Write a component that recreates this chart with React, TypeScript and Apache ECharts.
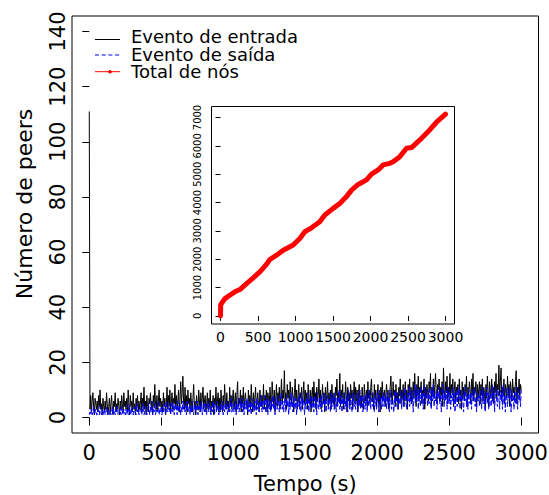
import React, { useEffect, useRef } from "react";
import * as echarts from "echarts";

// Sampling interval of the event series (seconds)
const STEP = 5;

// Peers that joined in each sampling window (one row = 50 s)
const entrada = [
  111,
  3, 8, 2, 6, 9, 4, 1, 7, 5, 3,
  6, 2, 8, 4, 10, 3, 5, 1, 7, 4,
  2, 6, 3, 9, 5, 1, 4, 7, 2, 5,
  8, 3, 1, 6, 4, 9, 2, 5, 3, 7,
  4, 1, 6, 3, 8, 5, 2, 9, 4, 6,
  3, 7, 2, 10, 5, 1, 8, 4, 6, 2,
  9, 3, 5, 1, 7, 4, 8, 2, 6, 3,
  5, 9, 2, 7, 4, 11, 3, 6, 1, 8,
  4, 2, 7, 5, 9, 3, 6, 1, 8, 4,
  12, 5, 3, 8, 2, 6, 10, 4, 7, 3,
  6, 2, 9, 4, 7, 1, 5, 11, 3, 8,
  4, 10, 2, 6, 9, 3, 7, 5, 12, 4,
  8, 3, 6, 10, 2, 7, 13, 5, 9, 15,
  6, 3, 11, 4, 8, 2, 10, 5, 7, 3,
  9, 5, 2, 7, 12, 4, 6, 1, 8, 5,
  3, 10, 6, 2, 9, 4, 7, 11, 3, 6,
  8, 2, 5, 9, 3, 7, 4, 10, 2, 6,
  4, 8, 1, 7, 5, 11, 3, 6, 9, 2,
  7, 3, 10, 5, 2, 8, 4, 12, 6, 3,
  9, 4, 6, 2, 11, 5, 8, 3, 7, 10,
  3, 6, 9, 2, 8, 13, 4, 7, 5, 10,
  2, 8, 5, 11, 3, 7, 9, 4, 6, 1,
  10, 5, 8, 3, 12, 6, 2, 9, 4, 7,
  11, 3, 6, 9, 5, 2, 10, 7, 4, 8,
  5, 12, 3, 8, 6, 10, 2, 9, 7, 4,
  11, 6, 3, 13, 8, 5, 10, 2, 7, 12,
  4, 9, 6, 11, 3, 8, 14, 5, 10, 7,
  17, 6, 9, 3, 12, 7, 10, 4, 13, 8,
  5, 11, 7, 2, 9, 14, 6, 10, 3, 8,
  12, 4, 9, 7, 11, 3, 8, 13, 5, 10,
  6, 9, 3, 12, 7, 5, 10, 2, 8, 11,
  4, 13, 7, 9, 3, 11, 6, 8, 14, 5,
  10, 3, 7, 12, 5, 9, 2, 11, 6, 8,
  13, 4, 9, 6, 10, 3, 12, 7, 5, 9,
  3, 11, 8, 14, 5, 9, 6, 16, 4, 10,
  7, 12, 3, 9, 5, 13, 8, 2, 11, 6,
  9, 4, 12, 7, 10, 3, 8, 13, 5, 11,
  6, 10, 2, 9, 12, 5, 8, 4, 11, 7,
  3, 12, 8, 6, 10, 4, 13, 7, 9, 5,
  11, 14, 6, 9, 3, 12, 7, 10, 4, 8,
  12, 5, 9, 2, 11, 7, 13, 6, 8, 10,
  4, 9, 12, 6, 10, 3, 8, 11, 15, 7,
  5, 13, 8, 10, 4, 12, 6, 9, 3, 11,
  8, 14, 5, 10, 7, 12, 4, 9, 13, 6,
  10, 3, 12, 8, 14, 6, 11, 5, 9, 13,
  7, 16, 10, 4, 12, 8, 15, 6, 11, 9,
  13, 5, 10, 8, 14, 3, 11, 7, 12, 9,
  6, 13, 10, 16, 4, 11, 8, 14, 7, 12,
  16, 9, 5, 12, 10, 14, 6, 11, 8, 13,
  4, 18, 10, 7, 13, 9, 15, 5, 11, 8,
  16, 7, 12, 9, 14, 4, 10, 13, 6, 11,
  9, 12, 5, 14, 8, 10, 3, 13, 7, 11,
  6, 12, 9, 15, 4, 11, 8, 13, 10, 5,
  14, 8, 16, 6, 11, 9, 13, 4, 12, 7,
  10, 13, 5, 12, 8, 14, 6, 11, 9, 3,
  12, 7, 15, 9, 4, 13, 10, 8, 14, 6,
  11, 5, 13, 9, 16, 7, 12, 10, 19, 8,
  13, 18, 6, 11, 9, 14, 5, 12, 10, 7,
  15, 8, 12, 4, 13, 10, 6, 14, 9, 11,
  7, 13, 17, 5, 11, 9, 14, 8, 12, 10,
];

// Peers that left in each sampling window (one row = 50 s)
const saida = [
  1,
  2, 1, 3, 1, 2, 4, 1, 2, 3, 1,
  1, 3, 2, 1, 4, 2, 1, 3, 1, 2,
  3, 1, 2, 4, 1, 2, 3, 1, 2, 1,
  2, 4, 1, 3, 2, 1, 3, 2, 4, 1,
  1, 2, 3, 1, 4, 2, 1, 3, 2, 1,
  3, 1, 2, 5, 1, 3, 2, 1, 4, 2,
  1, 3, 4, 2, 1, 5, 2, 3, 1, 2,
  4, 2, 1, 3, 5, 1, 2, 4, 3, 1,
  2, 5, 3, 1, 4, 2, 6, 1, 3, 2,
  5, 1, 3, 2, 4, 6, 1, 3, 2, 4,
  1, 4, 2, 5, 3, 1, 6, 2, 4, 3,
  2, 5, 1, 3, 6, 2, 4, 1, 5, 3,
  4, 1, 6, 2, 3, 5, 1, 4, 2, 6,
  3, 5, 2, 4, 1, 6, 3, 2, 5, 1,
  4, 2, 6, 3, 1, 5, 2, 4, 3, 6,
  1, 4, 3, 5, 2, 6, 1, 3, 5, 2,
  5, 3, 1, 4, 6, 2, 5, 3, 1, 4,
  2, 6, 3, 1, 5, 4, 2, 6, 3, 1,
  4, 2, 5, 3, 6, 1, 4, 2, 5, 3,
  6, 1, 3, 5, 2, 4, 7, 2, 3, 5,
  2, 4, 6, 1, 5, 3, 7, 2, 4, 6,
  3, 7, 2, 5, 1, 6, 4, 3, 7, 2,
  5, 2, 6, 4, 1, 7, 3, 5, 2, 6,
  4, 1, 7, 3, 5, 2, 6, 4, 8, 2,
  6, 3, 5, 8, 2, 4, 7, 1, 5, 3,
  7, 2, 6, 4, 8, 3, 5, 1, 7, 4,
  3, 8, 5, 2, 6, 4, 9, 3, 6, 2,
  5, 7, 2, 8, 4, 6, 1, 7, 3, 9,
  4, 6, 2, 8, 5, 3, 7, 1, 6, 4,
  8, 3, 6, 2, 9, 4, 7, 5, 1, 6,
  3, 7, 5, 9, 2, 6, 4, 8, 3, 5,
  7, 2, 8, 4, 6, 1, 9, 5, 3, 7,
  4, 8, 2, 6, 5, 9, 3, 7, 2, 6,
  8, 3, 7, 5, 2, 9, 4, 6, 8, 3,
  5, 9, 2, 7, 4, 6, 10, 3, 5, 8,
  2, 7, 5, 9, 3, 6, 4, 8, 2, 10,
  6, 3, 8, 5, 2, 9, 7, 4, 6, 3,
  9, 5, 2, 7, 4, 10, 3, 6, 8, 2,
  5, 8, 3, 6, 9, 2, 7, 4, 10, 5,
  3, 7, 9, 4, 6, 2, 8, 5, 3, 9,
  6, 2, 10, 5, 7, 3, 8, 4, 9, 6,
  4, 8, 3, 9, 5, 7, 2, 10, 6, 3,
  8, 5, 2, 7, 10, 4, 6, 9, 3, 7,
  5, 10, 7, 3, 9, 6, 4, 8, 11, 5,
  3, 9, 6, 11, 4, 8, 5, 10, 7, 2,
  8, 12, 5, 9, 6, 11, 3, 10, 7, 4,
  11, 6, 9, 3, 12, 7, 5, 10, 8, 4,
  9, 5, 11, 7, 3, 10, 6, 12, 4, 8,
  6, 10, 3, 9, 7, 11, 5, 8, 2, 10,
  7, 12, 4, 9, 6, 10, 3, 11, 8, 5,
  10, 3, 8, 6, 11, 5, 9, 2, 7, 10,
  4, 9, 7, 11, 3, 8, 6, 10, 5, 2,
  9, 6, 11, 4, 8, 3, 10, 7, 5, 9,
  3, 10, 6, 8, 11, 4, 7, 2, 9, 6,
  8, 4, 10, 7, 3, 11, 5, 9, 6, 2,
  7, 11, 5, 9, 3, 8, 10, 4, 7, 12,
  5, 9, 2, 8, 11, 6, 4, 10, 7, 3,
  10, 6, 9, 3, 12, 5, 8, 2, 11, 7,
  4, 9, 7, 11, 5, 2, 10, 6, 8, 3,
  9, 5, 11, 7, 3, 10, 6, 8, 4, 10,
];

// Cumulative number of nodes (inset)
const totalTempo = [
  0, 2, 13, 58, 124, 191, 258, 347, 436, 524, 604, 658, 747, 836, 969,
  1058, 1124, 1213, 1324, 1391, 1502, 1591, 1680, 1747, 1836, 1947, 2013,
  2102, 2169, 2258, 2302, 2391, 2480, 2547, 2658, 2769, 2880, 3000,
];
const totalNos = [
  0, 380, 440, 610, 730, 850, 930, 1140, 1340, 1555, 1790, 1990, 2145, 2320,
  2500, 2735, 2970, 3110, 3320, 3560, 3795, 3970, 4210, 4440, 4640, 4800,
  5000, 5150, 5330, 5385, 5440, 5620, 5915, 5940, 6210, 6505, 6835, 7120,
];

const xTicks = [0, 500, 1000, 1500, 2000, 2500, 3000];
const yTicks = [0, 20, 40, 60, 80, 100, 120, 140];
const insetYTicks = [0, 1000, 2000, 3000, 4000, 5000, 6000, 7000];

const FONT = "DejaVu Sans";

const sampled = (vals: number[]) => vals.map((v, i) => [i * STEP, v]);
const plain = (v: number) => String(v);

export default function App() {
  const ref = useRef<HTMLDivElement>(null);

  useEffect(() => {
    if (!ref.current) return;
    const chart = echarts.init(ref.current, undefined, { renderer: "svg" });

    const axisBase = {
      type: "value" as const,
      axisLine: { show: false },
      splitLine: { show: false },
    };
    const labelBase = {
      color: "#000",
      formatter: plain,
      showMinLabel: true,
      showMaxLabel: true,
      hideOverlap: false,
    };

    chart.setOption({
      animation: false,
      backgroundColor: "#fff",
      textStyle: { fontFamily: FONT },
      grid: [
        {
          left: 72, top: 16, width: 466.5, height: 417,
          show: true, borderColor: "#000", borderWidth: 1,
          outerBoundsMode: "none", containLabel: false,
        },
        {
          left: 211.5, top: 106.5, width: 243, height: 217.5,
          show: true, borderColor: "#000", borderWidth: 1,
          outerBoundsMode: "none", containLabel: false,
        },
      ],
      xAxis: [
        {
          ...axisBase,
          gridIndex: 0,
          min: -120,
          max: 3120,
          axisTick: { customValues: xTicks, length: 8, lineStyle: { color: "#000" } },
          axisLabel: { ...labelBase, customValues: xTicks, fontSize: 21, margin: 9, fontFamily: FONT },
          name: "Tempo (s)",
          nameLocation: "middle",
          nameGap: 40,
          nameTextStyle: { fontSize: 21, color: "#000", fontFamily: FONT },
        },
        {
          ...axisBase,
          gridIndex: 1,
          min: -120,
          max: 3120,
          axisTick: { customValues: xTicks, length: 5, lineStyle: { color: "#000" } },
          axisLabel: { ...labelBase, customValues: xTicks, fontSize: 14, margin: 6, fontFamily: FONT },
        },
      ],
      yAxis: [
        {
          ...axisBase,
          gridIndex: 0,
          min: -5.6,
          max: 145.6,
          axisTick: { customValues: yTicks, length: 7, lineStyle: { color: "#000" } },
          axisLabel: { ...labelBase, customValues: yTicks, rotate: 90, fontSize: 21, margin: 4, fontFamily: FONT },
        },
        {
          ...axisBase,
          gridIndex: 1,
          min: -285,
          max: 7390,
          axisTick: { customValues: insetYTicks, length: 5, lineStyle: { color: "#000" } },
          axisLabel: {
            ...labelBase,
            customValues: insetYTicks,
            rotate: 90,
            fontSize: 11,
            margin: 9,
            fontFamily: "DejaVu Sans Condensed, DejaVu Sans",
          },
        },
      ],
      series: [
        {
          name: "Evento de entrada",
          type: "line",
          xAxisIndex: 0,
          yAxisIndex: 0,
          data: sampled(entrada),
          symbol: "none",
          silent: true,
          lineStyle: { color: "#000", width: 1 },
        },
        {
          name: "Evento de saída",
          type: "line",
          xAxisIndex: 0,
          yAxisIndex: 0,
          data: sampled(saida),
          symbol: "none",
          silent: true,
          lineStyle: { color: "#0000ff", width: 1, type: [5, 2] },
        },
        {
          name: "Total de nós",
          type: "line",
          xAxisIndex: 1,
          yAxisIndex: 1,
          data: totalTempo.map((t, i) => [t, totalNos[i]]),
          symbol: "none",
          silent: true,
          lineStyle: { color: "#ff0000", width: 5, cap: "round", join: "round" },
        },
      ],
      graphic: [
        // legend keys
        { type: "line", shape: { x1: 95, y1: 39.5, x2: 120, y2: 39.5 }, style: { stroke: "#000", lineWidth: 1 } },
        { type: "line", shape: { x1: 95, y1: 55, x2: 120, y2: 55 }, style: { stroke: "#0000ff", lineWidth: 1, lineDash: [4, 2.7] } },
        { type: "line", shape: { x1: 95, y1: 71.7, x2: 120, y2: 71.7 }, style: { stroke: "#ff0000", lineWidth: 1 } },
        { type: "circle", shape: { cx: 110, cy: 71.7, r: 1.8 }, style: { fill: "#ff0000" } },
        { type: "text", x: 131, y: 36, style: { text: "Evento de entrada", fontSize: 18, lineHeight: 15, fontFamily: FONT, fill: "#000", textVerticalAlign: "middle" } },
        { type: "text", x: 131, y: 54, style: { text: "Evento de saída", fontSize: 18, lineHeight: 15, fontFamily: FONT, fill: "#000", textVerticalAlign: "middle" } },
        { type: "text", x: 131, y: 71.5, style: { text: "Total de nós", fontSize: 18, lineHeight: 15, fontFamily: FONT, fill: "#000", textVerticalAlign: "middle" } },
        // y-axis title
        {
          type: "text",
          x: 24,
          y: 204,
          rotation: Math.PI / 2,
          style: { text: "Número de peers", fontSize: 22, fontFamily: FONT, fill: "#000", textAlign: "center", textVerticalAlign: "middle" },
        },
      ],
    });

    return () => chart.dispose();
  }, []);

  return <div ref={ref} style={{ width: 549, height: 495, position: "absolute", left: 0, top: 0 }} />;
}
